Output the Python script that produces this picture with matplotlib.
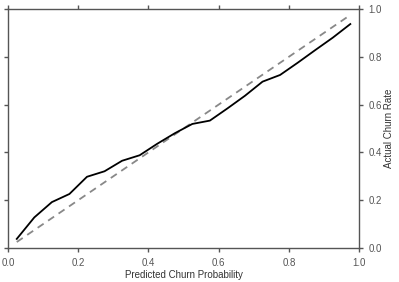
import numpy as np
import matplotlib
matplotlib.use('Agg')
import matplotlib.pyplot as plt

# --- Data ---
bin_centers = [0.025, 0.075, 0.125, 0.175, 0.225, 0.275, 0.325, 0.375, 0.425, 0.475,
               0.525, 0.575, 0.625, 0.675, 0.725, 0.775, 0.825, 0.875, 0.925, 0.975]
actual_rate = [0.038, 0.128, 0.192, 0.226, 0.298, 0.321, 0.365, 0.388, 0.436, 0.480,
               0.519, 0.533, 0.584, 0.637, 0.696, 0.724, 0.775, 0.828, 0.880, 0.937]
ideal = [0.025, 0.975]
ticks = [0.0, 0.2, 0.4, 0.6, 0.8, 1.0]

plt.rcParams['font.family'] = ['Liberation Sans', 'DejaVu Sans']

fig = plt.figure(figsize=(3.99, 2.82), dpi=100)
ax = fig.add_axes([0.02, 0.1206, 0.88, 0.8475])

ax.plot(ideal, ideal, color='#888888', lw=1.3, ls=(0, (4, 3)))
ax.plot(bin_centers, actual_rate, color='black', lw=1.3)

ax.set_xlim(0, 1)
ax.set_ylim(0, 1)
ax.set_xticks(ticks)
ax.set_yticks(ticks)
ax.set_xticklabels([f'{t:.1f}' for t in ticks])

ax.yaxis.tick_right()
ax.yaxis.set_label_position('right')
ax.set_yticklabels([f'{t:.1f}' for t in ticks])
ax.tick_params(axis='both', direction='out', length=3, width=1, color='#555555',
               labelsize=7, labelcolor='#555555', pad=3.5)
ax.tick_params(axis='x', top=True, pad=4.5)
ax.tick_params(axis='y', left=True)

for s in ax.spines.values():
    s.set_color('#555555')
    s.set_linewidth(1)

ax.set_xlabel('Predicted Churn Probability', fontsize=7, color='#333333', labelpad=1)
ax.set_ylabel('Actual Churn Rate', fontsize=7, color='#333333', labelpad=2)

fig.savefig('out.png', dpi=100)
